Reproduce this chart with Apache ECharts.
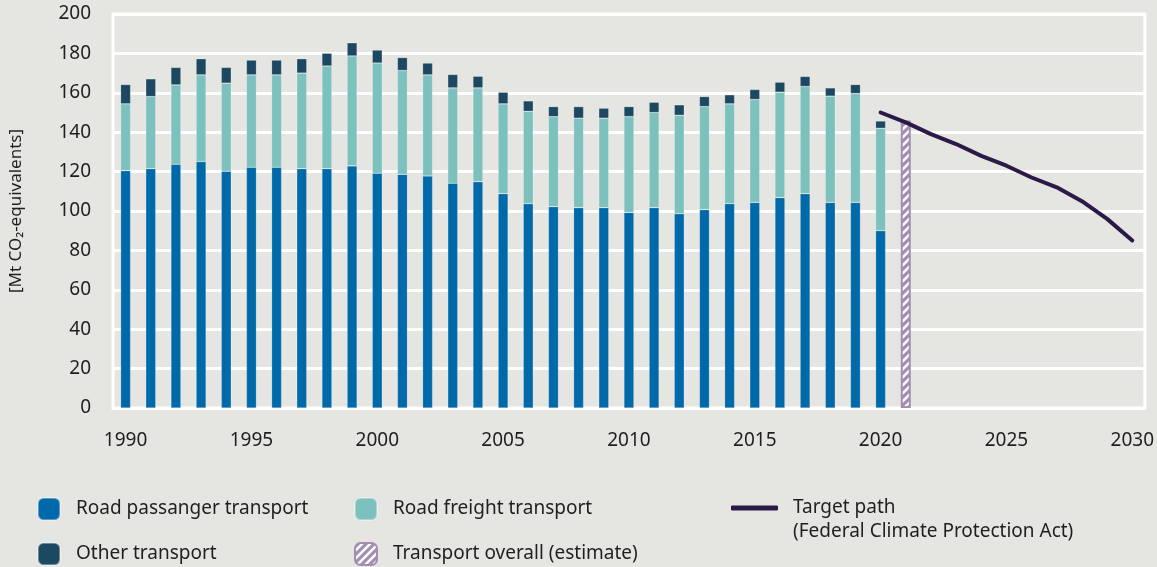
<!DOCTYPE html>
<html>
<head>
<meta charset="utf-8">
<script src="https://cdn.jsdelivr.net/npm/echarts@6/dist/echarts.min.js"></script>
<style>
    html, body { margin: 0; padding: 0; background: #e5e5e1; }
    #chart { width: 1157px; height: 567px; }
</style>
</head>
<body>
<div id="chart"></div>
<script>
// Years on the x axis
const years = [
    "1990", "1991", "1992", "1993", "1994", "1995", "1996", "1997", "1998", "1999",
    "2000", "2001", "2002", "2003", "2004", "2005", "2006", "2007", "2008", "2009",
    "2010", "2011", "2012", "2013", "2014", "2015", "2016", "2017", "2018", "2019",
    "2020", "2021", "2022", "2023", "2024", "2025", "2026", "2027", "2028", "2029", "2030"
];

// Emissions 1990-2020, Mt CO2-equivalents
const roadPassenger = [
    120.5, 121.5, 123.7, 125.1, 120.2, 122.2, 122.2, 121.5, 121.5, 122.9,
    119.2, 118.6, 117.8, 114.1, 114.9, 108.8, 103.7, 102.2, 101.7, 101.7,
    99.3, 101.7, 98.6, 100.7, 103.7, 104.4, 106.8, 108.8, 104.4, 104.4, 90.0
];
const roadFreight = [
    33.9, 36.6, 40.3, 44.0, 44.7, 46.9, 46.9, 48.5, 52.1, 55.8,
    55.9, 52.7, 51.3, 48.4, 47.6, 45.6, 46.9, 45.7, 45.4, 45.4,
    48.6, 48.3, 50.0, 52.3, 50.7, 52.2, 53.5, 54.4, 53.9, 55.2, 52.0
];
const otherTransport = [
    9.8, 9.0, 8.9, 8.2, 8.0, 7.5, 7.5, 7.3, 6.5, 6.7,
    6.6, 6.6, 6.0, 6.8, 5.9, 5.9, 5.3, 5.1, 5.9, 5.1,
    5.1, 5.2, 5.3, 5.1, 4.6, 5.1, 5.1, 5.1, 4.2, 4.6, 3.7
];

// 2021 estimate for transport overall
const estimateYear = "2021";
const estimateValue = 146;

// Target path 2020-2030 (Federal Climate Protection Act)
const targetYears = ["2020", "2021", "2022", "2023", "2024", "2025", "2026", "2027", "2028", "2029", "2030"];
const targetValues = [150, 145, 139, 134, 128, 123, 117, 112, 105, 96, 85];

// Build full-length series aligned with the year axis
function alignTo(labels, values) {
    return years.map(function (y) {
        const i = labels.indexOf(y);
        return i >= 0 ? values[i] : null;
    });
}
const histYears = years.slice(0, roadPassenger.length);
const passengerData = alignTo(histYears, roadPassenger);
const freightData = alignTo(histYears, roadFreight);
const otherData = alignTo(histYears, otherTransport);
const estimateData = alignTo([estimateYear], [estimateValue]);
const targetData = alignTo(targetYears, targetValues);

// Hatch pattern for the estimate bar
const purple = "#a38db1";
const hatch = document.createElement("canvas");
hatch.width = 8;
hatch.height = 8;
const ctx = hatch.getContext("2d");
ctx.fillStyle = purple;
ctx.fillRect(0, 0, 8, 8);
ctx.strokeStyle = "#ffffff";
ctx.lineWidth = 2.6;
ctx.beginPath();
ctx.moveTo(-2, 10); ctx.lineTo(10, -2);
ctx.moveTo(-6, 6); ctx.lineTo(6, -6);
ctx.moveTo(2, 14); ctx.lineTo(14, 2);
ctx.stroke();

const font = "Noto Sans";
const textColor = "#1f1f1f";

const chart = echarts.init(document.getElementById("chart"));

const legendText = { fontFamily: font, fontSize: 19, color: textColor, padding: [0, 0, 0, 11] };

// one legend per item so each sits where it does in the original
function boxLegend(name, left, top) {
    return {
        left: left, top: top, padding: 0, itemWidth: 22, itemHeight: 22,
        data: [name], textStyle: legendText
    };
}

chart.setOption({
    backgroundColor: "#e5e5e1",
    animation: false,
    grid: {
        left: 113, right: 11, top: 14, bottom: 159,
        show: true, borderColor: "#ffffff", borderWidth: 3, backgroundColor: "transparent"
    },
    legend: [
        boxLegend("Road passanger transport", 37, 497),
        boxLegend("Other transport", 37, 542),
        boxLegend("Road freight transport", 354, 497),
        boxLegend("Transport overall (estimate)", 354, 542),
        {
            left: 731, top: 472, padding: 0, itemWidth: 47, itemHeight: 5,
            data: [{ name: "Target path", icon: "roundRect" }],
            // leading empty line keeps the first text line level with the icon
            formatter: function () { return "\nTarget path\n(Federal Climate Protection Act)"; },
            textStyle: Object.assign({}, legendText, { lineHeight: 24, padding: [0, 0, 0, 10] })
        }
    ],
    xAxis: {
        type: "category",
        data: years,
        axisLine: { show: false },
        axisTick: { show: false },
        axisLabel: { interval: 4, margin: 23, fontFamily: font, fontSize: 19, color: textColor }
    },
    yAxis: {
        type: "value",
        min: 0, max: 200, interval: 20,
        name: "[Mt CO\u2082-equivalents]",
        nameLocation: "middle",
        nameGap: 88,
        nameTextStyle: { fontFamily: font, fontSize: 17, color: textColor },
        axisLine: { show: false },
        axisTick: { show: false },
        axisLabel: { margin: 22, fontFamily: font, fontSize: 19, color: textColor },
        splitLine: { lineStyle: { color: "#ffffff", width: 3 } }
    },
    series: [
        {
            name: "Road passanger transport", type: "bar", stack: "total", barWidth: 10,
            data: passengerData,
            itemStyle: { color: "#0069aa", borderColor: "rgba(255,255,255,0.35)", borderWidth: 0.6 }
        },
        {
            name: "Road freight transport", type: "bar", stack: "total", barWidth: 10,
            data: freightData,
            itemStyle: { color: "#7cc1bd", borderColor: "rgba(255,255,255,0.35)", borderWidth: 0.6 }
        },
        {
            name: "Other transport", type: "bar", stack: "total", barWidth: 10,
            data: otherData,
            itemStyle: { color: "#1c4862", borderColor: "rgba(255,255,255,0.35)", borderWidth: 0.6 }
        },
        {
            name: "Transport overall (estimate)", type: "bar", stack: "total", barWidth: 10,
            data: estimateData,
            itemStyle: { color: { image: hatch, repeat: "repeat" }, borderColor: purple, borderWidth: 2 }
        },
        {
            name: "Target path", type: "line",
            data: targetData,
            symbol: "none",
            connectNulls: false,
            lineStyle: { color: "#2b1a47", width: 4, cap: "round", join: "round" },
            itemStyle: { color: "#2b1a47" },
            z: 5
        }
    ]
});
</script>
</body>
</html>
